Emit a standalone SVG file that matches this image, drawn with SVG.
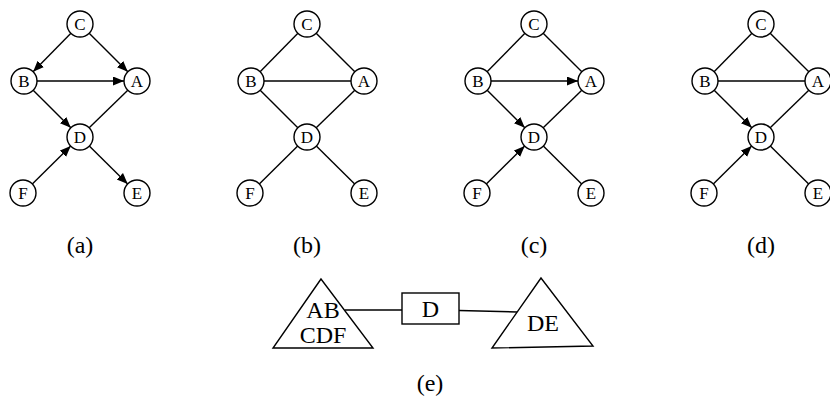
<svg xmlns="http://www.w3.org/2000/svg" width="830" height="398" viewBox="0 0 830 398" font-family="Liberation Serif, Times New Roman, Times, serif">
<style>
  .edge { stroke: #000; stroke-width: 1.4; fill: none; }
  .arr { marker-end: url(#ah); }
  .node circle { fill: #fff; stroke: #000; stroke-width: 1.4; }
  .node text { font-size: 17px; text-anchor: middle; fill: #000; }
  .cap { font-size: 24px; text-anchor: middle; fill: #000; }
  .shape { fill: #fff; stroke: #000; stroke-width: 1.4; }
  .big { font-size: 24px; text-anchor: middle; fill: #000; }
</style>
<defs>
  <marker id="ah" markerUnits="userSpaceOnUse" markerWidth="12" markerHeight="10" refX="11" refY="4.5" orient="auto">
    <path d="M0,0 L11,4.5 L0,9 z" fill="#000"/>
  </marker>
</defs>

<!-- (a) -->
<g id="graph-a" transform="translate(80,0)">
  <g id="a-connectors">
    <line class="edge arr" x1="-9.1" y1="33.3" x2="-46.9" y2="71.7"/>
    <line class="edge arr" x1="9.2" y1="33.2" x2="47.8" y2="71.8"/>
    <line class="edge arr" x1="-43" y1="81" x2="44" y2="81"/>
    <line class="edge arr" x1="-46.8" y1="90.2" x2="-9.2" y2="127.8"/>
    <line class="edge" x1="47.8" y1="90.2" x2="9.2" y2="127.8"/>
    <line class="edge arr" x1="9.3" y1="146.1" x2="47.7" y2="183.9"/>
    <line class="edge arr" x1="-47.7" y1="183.9" x2="-9.3" y2="146.1"/>
  </g>
  <g id="a-C" class="node"><circle cx="0" cy="24" r="13"/><text x="0" y="30">C</text></g>
  <g id="a-B" class="node"><circle cx="-56" cy="81" r="13"/><text x="-56" y="87">B</text></g>
  <g id="a-A" class="node"><circle cx="57" cy="81" r="13"/><text x="57" y="87">A</text></g>
  <g id="a-D" class="node"><circle cx="0" cy="137" r="13"/><text x="0" y="143">D</text></g>
  <g id="a-F" class="node"><circle cx="-57" cy="193" r="13"/><text x="-57" y="199">F</text></g>
  <g id="a-E" class="node"><circle cx="57" cy="193" r="13"/><text x="57" y="199">E</text></g>
  <text class="cap" x="0" y="253">(a)</text>
</g>

<!-- (b) -->
<g id="graph-b" transform="translate(307,0)">
  <g id="b-connectors">
    <line class="edge" x1="-9.1" y1="33.3" x2="-46.9" y2="71.7"/>
    <line class="edge" x1="9.2" y1="33.2" x2="47.8" y2="71.8"/>
    <line class="edge" x1="-43" y1="81" x2="44" y2="81"/>
    <line class="edge" x1="-46.8" y1="90.2" x2="-9.2" y2="127.8"/>
    <line class="edge" x1="47.8" y1="90.2" x2="9.2" y2="127.8"/>
    <line class="edge" x1="9.3" y1="146.1" x2="47.7" y2="183.9"/>
    <line class="edge" x1="-47.7" y1="183.9" x2="-9.3" y2="146.1"/>
  </g>
  <g id="b-C" class="node"><circle cx="0" cy="24" r="13"/><text x="0" y="30">C</text></g>
  <g id="b-B" class="node"><circle cx="-56" cy="81" r="13"/><text x="-56" y="87">B</text></g>
  <g id="b-A" class="node"><circle cx="57" cy="81" r="13"/><text x="57" y="87">A</text></g>
  <g id="b-D" class="node"><circle cx="0" cy="137" r="13"/><text x="0" y="143">D</text></g>
  <g id="b-F" class="node"><circle cx="-57" cy="193" r="13"/><text x="-57" y="199">F</text></g>
  <g id="b-E" class="node"><circle cx="57" cy="193" r="13"/><text x="57" y="199">E</text></g>
  <text class="cap" x="0" y="253">(b)</text>
</g>

<!-- (c) -->
<g id="graph-c" transform="translate(534,0)">
  <g id="c-connectors">
    <line class="edge" x1="-9.1" y1="33.3" x2="-46.9" y2="71.7"/>
    <line class="edge" x1="9.2" y1="33.2" x2="47.8" y2="71.8"/>
    <line class="edge arr" x1="-43" y1="81" x2="44" y2="81"/>
    <line class="edge arr" x1="-46.8" y1="90.2" x2="-9.2" y2="127.8"/>
    <line class="edge" x1="47.8" y1="90.2" x2="9.2" y2="127.8"/>
    <line class="edge" x1="9.3" y1="146.1" x2="47.7" y2="183.9"/>
    <line class="edge arr" x1="-47.7" y1="183.9" x2="-9.3" y2="146.1"/>
  </g>
  <g id="c-C" class="node"><circle cx="0" cy="24" r="13"/><text x="0" y="30">C</text></g>
  <g id="c-B" class="node"><circle cx="-56" cy="81" r="13"/><text x="-56" y="87">B</text></g>
  <g id="c-A" class="node"><circle cx="57" cy="81" r="13"/><text x="57" y="87">A</text></g>
  <g id="c-D" class="node"><circle cx="0" cy="137" r="13"/><text x="0" y="143">D</text></g>
  <g id="c-F" class="node"><circle cx="-57" cy="193" r="13"/><text x="-57" y="199">F</text></g>
  <g id="c-E" class="node"><circle cx="57" cy="193" r="13"/><text x="57" y="199">E</text></g>
  <text class="cap" x="0" y="253">(c)</text>
</g>

<!-- (d) -->
<g id="graph-d" transform="translate(761,0)">
  <g id="d-connectors">
    <line class="edge" x1="-9.1" y1="33.3" x2="-46.9" y2="71.7"/>
    <line class="edge" x1="9.2" y1="33.2" x2="47.8" y2="71.8"/>
    <line class="edge" x1="-43" y1="81" x2="44" y2="81"/>
    <line class="edge arr" x1="-46.8" y1="90.2" x2="-9.2" y2="127.8"/>
    <line class="edge" x1="47.8" y1="90.2" x2="9.2" y2="127.8"/>
    <line class="edge" x1="9.3" y1="146.1" x2="47.7" y2="183.9"/>
    <line class="edge arr" x1="-47.7" y1="183.9" x2="-9.3" y2="146.1"/>
  </g>
  <g id="d-C" class="node"><circle cx="0" cy="24" r="13"/><text x="0" y="30">C</text></g>
  <g id="d-B" class="node"><circle cx="-56" cy="81" r="13"/><text x="-56" y="87">B</text></g>
  <g id="d-A" class="node"><circle cx="57" cy="81" r="13"/><text x="57" y="87">A</text></g>
  <g id="d-D" class="node"><circle cx="0" cy="137" r="13"/><text x="0" y="143">D</text></g>
  <g id="d-F" class="node"><circle cx="-57" cy="193" r="13"/><text x="-57" y="199">F</text></g>
  <g id="d-E" class="node"><circle cx="57" cy="193" r="13"/><text x="57" y="199">E</text></g>
  <text class="cap" x="0" y="253">(d)</text>
</g>

<!-- (e) -->
<g id="graph-e">
  <g id="e-connectors">
    <line class="edge" x1="345" y1="310" x2="402" y2="310"/>
    <line class="edge" x1="459" y1="310.5" x2="517" y2="312"/>
  </g>
  <g id="e-ABCDF">
    <polygon class="shape" points="321,279 273,348 373,348"/>
    <text class="big" x="323" y="318">AB</text>
    <text class="big" x="323" y="343">CDF</text>
  </g>
  <g id="e-D">
    <rect class="shape" x="402" y="293" width="57" height="31"/>
    <text class="big" x="430.5" y="317">D</text>
  </g>
  <g id="e-DE">
    <polygon class="shape" points="541,278 492,348 593,346"/>
    <text class="big" x="543" y="331">DE</text>
  </g>
  <text class="cap" x="430" y="391">(e)</text>
</g>
</svg>
